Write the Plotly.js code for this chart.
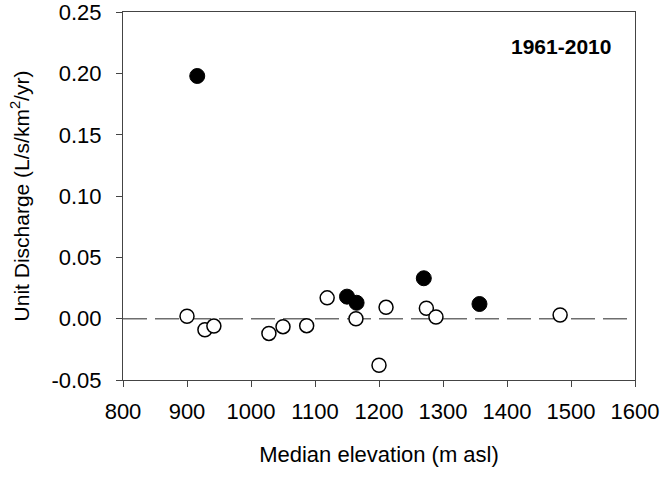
<!DOCTYPE html>
<html>
<head>
<meta charset="utf-8">
<script src="https://cdn.plot.ly/plotly-3.0.1.min.js"></script>
<style>html,body{margin:0;padding:0;background:#fff;}#chart{width:663px;height:478px;}</style>
</head>
<body>
<div id="chart"></div>
<script>
// Filled markers (significant)
const filledElev = [916, 1150, 1165, 1270, 1357];
const filledQ = [0.198, 0.018, 0.013, 0.033, 0.012];
// Open markers (non-significant)
const openElev = [900, 928, 942, 1028, 1050, 1087, 1119, 1164, 1211, 1200, 1274, 1289, 1483];
const openQ = [0.002, -0.009, -0.006, -0.012, -0.0065, -0.0057, 0.017, 0.000, 0.0093, -0.038, 0.0085, 0.0014, 0.003];
const xRange = [800, 1600];
const yRange = [-0.05, 0.2502];
const yTickVals = [-0.05, 0.00, 0.05, 0.10, 0.15, 0.20, 0.25];
const yTickText = ["-0.05", "0.00", "0.05", "0.10", "0.15", "0.20", "0.25"];
const periodLabel = "1961-2010";

const font = "Liberation Sans, Arial, sans-serif";
const traces = [
  {
    x: xRange, y: [0, 0], mode: "lines", type: "scatter",
    line: {color: "#6e6e6e", width: 1.5, dash: "24px,8px"},
    hoverinfo: "skip", showlegend: false
  },
  {
    x: openElev, y: openQ, mode: "markers", type: "scatter",
    marker: {size: 14, color: "#ffffff", line: {color: "#000000", width: 1.5}},
    showlegend: false
  },
  {
    x: filledElev, y: filledQ, mode: "markers", type: "scatter",
    marker: {size: 15, color: "#000000", line: {color: "#000000", width: 1}},
    showlegend: false
  }
];
const axisCommon = {
  showline: true, mirror: true, linecolor: "#444", linewidth: 1,
  ticks: "outside", ticklen: 6, tickcolor: "#444", tickwidth: 1,
  showgrid: false, zeroline: false,
  tickfont: {family: font, size: 22, color: "#000"}
};
const layout = {
  width: 663, height: 478,
  margin: {l: 123, r: 27.5, t: 12, b: 98},
  paper_bgcolor: "#fff", plot_bgcolor: "#fff",
  xaxis: Object.assign({}, axisCommon, {
    range: xRange, dtick: 100, tick0: 800, ticklabelstandoff: 6,
    title: {text: "Median elevation (m asl)", font: {family: font, size: 22, color: "#000"}, standoff: 23}
  }),
  yaxis: Object.assign({}, axisCommon, {
    range: yRange, tickmode: "array", tickvals: yTickVals, ticktext: yTickText, ticklabelstandoff: 10,
    ticklabeloverflow: "allow",
    title: {text: "Unit Discharge (L/s/km<sup>2</sup>/yr)", font: {family: font, size: 21, color: "#000"}, standoff: 16}
  }),
  annotations: [{
    text: "<b>" + periodLabel + "</b>", xref: "paper", yref: "paper",
    x: 0.958, y: 0.905, xanchor: "right", yanchor: "middle", showarrow: false,
    font: {family: font, size: 21, color: "#000"}
  }]
};
Plotly.newPlot("chart", traces, layout, {displayModeBar: false, staticPlot: true});
</script>
</body>
</html>
